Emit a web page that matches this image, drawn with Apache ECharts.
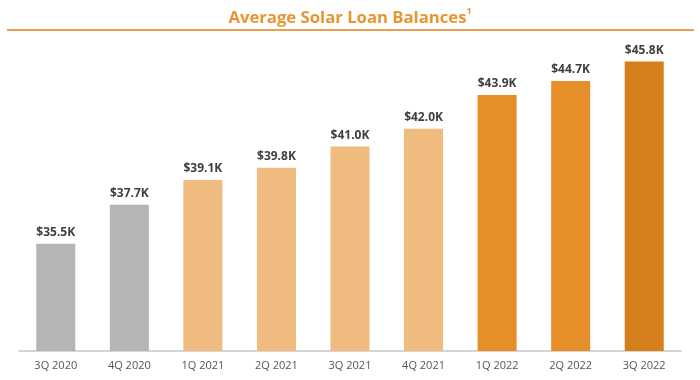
<!DOCTYPE html>
<html><head><meta charset="utf-8">
<script src="https://cdn.jsdelivr.net/npm/echarts@6/dist/echarts.min.js"></script>
<style>html,body{margin:0;padding:0;background:#fff}#c{width:700px;height:380px}</style>
</head><body><div id="c"></div>
<script>
const categories = ['3Q 2020','4Q 2020','1Q 2021','2Q 2021','3Q 2021','4Q 2021','1Q 2022','2Q 2022','3Q 2022'];
const values = [35.5, 37.7, 39.1, 39.8, 41.0, 42.0, 43.9, 44.7, 45.8];
const barColors = ['#b5b5b5','#b5b5b5','#f0bb7e','#f0bb7e','#f0bb7e','#f0bb7e','#e68f2a','#e68f2a','#d47f1b'];

const chart = echarts.init(document.getElementById('c'), null, {renderer:'canvas'});
chart.setOption({
  animation:false,
  backgroundColor:'#fff',
  title:{
    text:'{a|Average Solar Loan Balances}{s|1}',
    left:'center', top:2,
    textStyle:{rich:{
      a:{fontFamily:'Open Sans', fontWeight:'bold', fontSize:16.7, color:'#e8952f', lineHeight:22},
      s:{fontFamily:'Open Sans', fontWeight:'bold', fontSize:9, color:'#e8952f', verticalAlign:'top', padding:[0,0,8,0]}
    }}
  },
  graphic:[{type:'line', shape:{x1:7,y1:30,x2:694,y2:30}, style:{stroke:'#e8a050', lineWidth:2}}],
  grid:{left:19, right:19, top:49, bottom:29, containLabel:false},
  xAxis:{
    type:'category', data:categories,
    axisLine:{lineStyle:{color:'#c8c8c8', width:1.5}},
    axisTick:{show:false},
    axisLabel:{color:'#555', fontFamily:'Open Sans', fontSize:11, margin:9}
  },
  yAxis:{type:'value', min:29.45, max:46.5, show:false, splitLine:{show:false}},
  series:[{
    type:'bar', barWidth:39,
    data: values.map((v,i)=>({value:v, itemStyle:{color:barColors[i]}})),
    label:{show:true, position:'top', distance:5, color:'#404040',
      fontFamily:'Open Sans', fontWeight:'bold', fontSize:12,
      formatter:p=>'$'+p.value.toFixed(1)+'K'}
  }]
});
</script></body></html>
